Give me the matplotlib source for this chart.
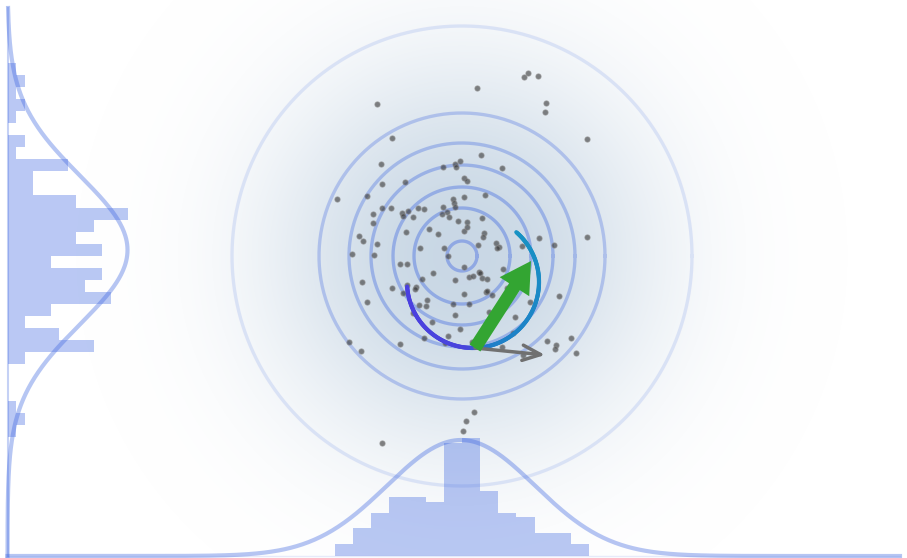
import numpy as np
import matplotlib.pyplot as plt
from matplotlib.collections import LineCollection
from matplotlib.colors import LinearSegmentedColormap

# canvas units = pixels, y grows downwards
W, H = 907, 558
center = (462, 256)

# scatter points (x, y)
pts_x = [528, 524, 538, 477, 377, 546, 545, 587, 392, 481, 381, 460, 455, 456, 443, 502, 464,
         337, 382, 405, 467, 367, 464, 453, 454, 455, 382, 391, 373, 402, 408, 418, 424, 403,
         413, 443, 447, 442, 449, 458, 467, 464, 467, 373, 429, 438, 406, 359, 363, 377, 420,
         444, 352, 374, 448, 400, 407, 464, 433,
         485, 482, 484, 483, 478, 496, 499, 497, 539, 554, 587, 522, 503, 479,
         469, 473, 480, 482, 487, 455, 486, 492, 453, 469, 455,
         362, 392, 407, 416, 415, 403, 422, 367, 427, 419, 426, 413, 432, 460, 424, 448, 445,
         400, 349, 361,
         507, 513, 487, 559, 508, 530, 489, 515, 490, 513, 547, 571, 556, 555, 576, 523, 502, 472,
         474, 466, 463, 382, 519, 464]
pts_y = [73, 77, 76, 88, 104, 103, 112, 139, 138, 155, 164, 161, 164, 167, 167, 168, 178,
         199, 184, 182, 181, 196, 197, 199, 203, 207, 208, 208, 214, 213, 211, 208, 209, 216,
         217, 207, 212, 214, 217, 221, 222, 231, 227, 223, 229, 234, 232, 236, 241, 244, 248,
         248, 254, 255, 256, 264, 264, 267, 273,
         195, 218, 233, 237, 245, 243, 247, 248, 238, 245, 237, 246, 269, 272,
         277, 276, 273, 278, 279, 280, 292, 295, 304, 304, 315,
         282, 288, 285, 287, 289, 293, 279, 302, 300, 305, 306, 313, 322, 329, 338, 336, 343,
         344, 342, 351,
         288, 290, 291, 296, 301, 302, 312, 317, 325, 333, 341, 338, 345, 349, 353, 355, 347, 342,
         412, 421, 431, 443, 271, 294]

# contour rings
ring_radii = [15, 48, 69, 91, 113, 143, 230]
ring_alpha = [0.42, 0.42, 0.4, 0.38, 0.34, 0.3, 0.14]

# left histogram (y distribution)
left_counts = [1, 2, 1, 2, 1, 0, 2, 1, 7, 3, 3, 8, 14, 10, 8, 11, 5, 11, 9, 12, 5, 2, 6, 10, 2,
               0, 0, 0, 1, 2, 1]
left_top, left_bin, left_unit = 62.7, 12.07, 8.6

# bottom histogram (x distribution)
bottom_heights = [12, 28, 43, 59, 59, 54, 113, 118, 65, 43, 39, 23, 23, 12]
bottom_left, bottom_bin = 335, 18.14

axis_x, axis_y = 7.5, 556

# arc + vectors
arc_c, arc_r, arc_from, arc_to = (473, 282), 66, 184, 409
origin = (475, 348)
green_tip = (531, 261)
gray_tip = (545, 355)

blue = "#4169e1"

fig = plt.figure(figsize=(W / 100, H / 100), dpi=100)
ax = fig.add_axes([0, 0, 1, 1])
ax.set_xlim(0, W)
ax.set_ylim(H, 0)
ax.axis("off")

# radial glow
gx, gy = np.meshgrid(np.arange(W) + 0.5, np.arange(H) + 0.5)
r = np.hypot(gx - center[0], gy - center[1])
img = np.zeros((H, W, 4))
img[..., 0], img[..., 1], img[..., 2] = 170 / 255, 193 / 255, 214 / 255
img[..., 3] = 0.64 * np.exp(-(r / 190) ** 2.3)
ax.imshow(img, extent=(0, W, H, 0), zorder=0, interpolation="bilinear")

t = np.linspace(0, 2 * np.pi, 400)
for rad, a in zip(ring_radii, ring_alpha):
    ax.plot(center[0] + rad * np.cos(t), center[1] + rad * np.sin(t), color=blue, alpha=a, lw=2.4, zorder=2)

# histograms
yl = left_top + left_bin * np.arange(len(left_counts))
ax.barh(yl, np.array(left_counts) * left_unit, height=left_bin, left=axis_x, align="edge",
        color=blue, alpha=0.36, lw=0, zorder=1)
xb = bottom_left + bottom_bin * np.arange(len(bottom_heights))
ax.bar(xb, -np.array(bottom_heights), width=bottom_bin, bottom=axis_y, align="edge",
       color=blue, alpha=0.36, lw=0, zorder=1)

# gaussians
yy = np.linspace(8, axis_y, 400)
ax.plot(axis_x + 120 * np.exp(-0.5 * ((yy - 250) / 74) ** 2), yy, color=blue, alpha=0.38, lw=3, zorder=3)
xx = np.linspace(axis_x, 900, 600)
ax.plot(xx, axis_y - 116 * np.exp(-0.5 * ((xx - 461) / 74) ** 2), color=blue, alpha=0.38, lw=3, zorder=3)

ax.plot([axis_x, axis_x], [8, axis_y], color=blue, alpha=0.3, lw=1.5, zorder=3)
ax.plot([axis_x, 900], [axis_y, axis_y], color=blue, alpha=0.12, lw=1, zorder=3)

# scatter
ax.scatter(pts_x, pts_y, s=14, color="#333333", alpha=0.6, lw=0.8, edgecolor="#888888", zorder=4)

# arc with colour gradient
th = np.radians(np.linspace(arc_from, arc_to, 200))
ax_ = arc_c[0] + arc_r * np.cos(th)
ay_ = arc_c[1] - arc_r * np.sin(th)
segs = np.stack([np.column_stack([ax_[:-1], ay_[:-1]]), np.column_stack([ax_[1:], ay_[1:]])], axis=1)
cmap = LinearSegmentedColormap.from_list("arc", [(0, "#4a3fe0"), (0.36, "#4a45dc"), (0.46, "#1f7fc8"), (1, "#1792c4")])
lc = LineCollection(segs, cmap=cmap, lw=3, zorder=5, capstyle="round")
lc.set_array(np.linspace(0, 1, len(segs)))
ax.add_collection(lc)

# vectors
ax.annotate("", xy=gray_tip, xytext=origin,
            arrowprops=dict(arrowstyle="->,head_length=1.3,head_width=0.55", color="#707070", lw=2.5,
                            shrinkA=0, shrinkB=0), zorder=6)
ax.annotate("", xy=green_tip, xytext=origin,
            arrowprops=dict(arrowstyle="simple,head_length=1.0,head_width=1.15,tail_width=0.42",
                            color="#33a532", lw=0, mutation_scale=22, shrinkA=0, shrinkB=0), zorder=7)

fig.savefig("out.png", dpi=100)
